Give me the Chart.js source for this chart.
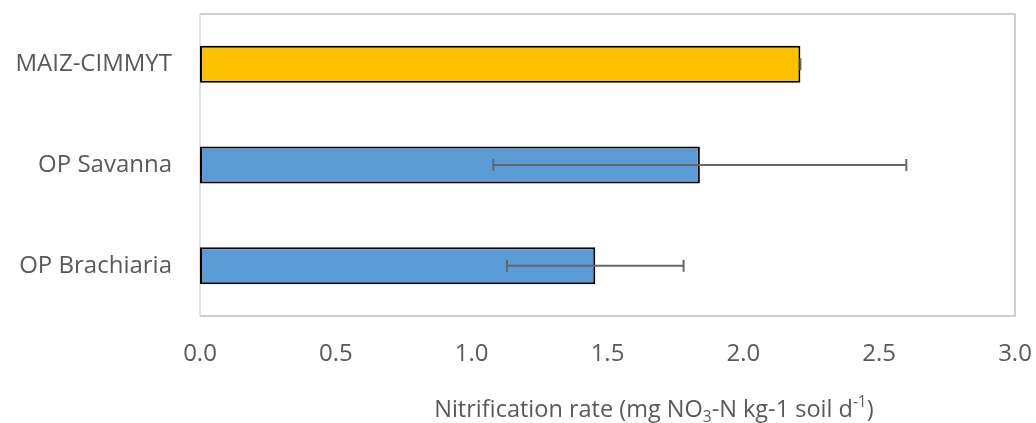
<!DOCTYPE html>
<html><head><meta charset="utf-8">
<script src="https://cdn.jsdelivr.net/npm/chart.js@4"></script>
<style>html,body{margin:0;padding:0;background:#fff}</style>
</head><body>
<canvas id="c" width="1036" height="423"></canvas>
<script>
// Nitrification rate per genotype, with standard-error half widths
const categories = ['MAIZ-CIMMYT', 'OP Savanna', 'OP Brachiaria'];
const rates = [2.21, 1.84, 1.455];
const errors = [0, 0.76, 0.325];
const barColors = ['#FFC000', '#5B9BD5', '#5B9BD5'];
const xTickValues = [0, 0.5, 1.0, 1.5, 2.0, 2.5, 3.0];

const FONT = '"Open Sans", "Liberation Sans", sans-serif';
const TEXT = '#595959';

// grey frame around the plotting area
const framePlugin = {
  id: 'frame',
  beforeDatasetsDraw(chart) {
    const a = chart.chartArea, ctx = chart.ctx;
    ctx.save();
    ctx.lineWidth = 1.5;
    ctx.strokeStyle = '#BFBFBF';
    ctx.beginPath();
    ctx.moveTo(a.left, a.top); ctx.lineTo(a.right, a.top);
    ctx.lineTo(a.right, a.bottom); ctx.lineTo(a.left, a.bottom);
    ctx.stroke();
    ctx.strokeStyle = '#D9D9D9';
    ctx.beginPath();
    ctx.moveTo(a.left, a.top); ctx.lineTo(a.left, a.bottom);
    ctx.stroke();
    ctx.restore();
  }
};

// horizontal error bars with end caps
const errorBarPlugin = {
  id: 'errorBars',
  afterDatasetsDraw(chart) {
    const ctx = chart.ctx, xs = chart.scales.x, ys = chart.scales.y;
    ctx.save();
    ctx.strokeStyle = '#666666';
    ctx.lineWidth = 2;
    rates.forEach((v, i) => {
      const y = ys.getPixelForValue(i);
      const x1 = xs.getPixelForValue(v - errors[i]);
      const x2 = xs.getPixelForValue(v + errors[i]);
      const h = 6;
      ctx.beginPath();
      ctx.moveTo(x1, y); ctx.lineTo(x2, y);
      ctx.moveTo(x1, y - h); ctx.lineTo(x1, y + h);
      ctx.moveTo(x2, y - h); ctx.lineTo(x2, y + h);
      ctx.stroke();
    });
    ctx.restore();
  }
};

// axis title with sub- and superscripts
const axisTitlePlugin = {
  id: 'axisTitle',
  afterDraw(chart) {
    const ctx = chart.ctx, a = chart.chartArea;
    const parts = [
      ['Nitrification rate (mg NO', 0],
      ['3', 1],
      ['-N kg-1 soil d', 0],
      ['-1', -1],
      [')', 0]
    ];
    const big = '23.5px ' + FONT, small = '15.5px ' + FONT;
    ctx.save();
    let total = 0;
    parts.forEach(p => { ctx.font = p[1] ? small : big; total += ctx.measureText(p[0]).width; });
    let x = a.left + (a.right - a.left) * 0.557 - total / 2;
    const base = a.bottom + 101;
    ctx.fillStyle = TEXT;
    ctx.textBaseline = 'alphabetic';
    ctx.textAlign = 'left';
    parts.forEach(p => {
      ctx.font = p[1] ? small : big;
      const dy = p[1] === 1 ? 5 : (p[1] === -1 ? -10 : 0);
      ctx.fillText(p[0], x, base + dy);
      x += ctx.measureText(p[0]).width;
    });
    ctx.restore();
  }
};

new Chart(document.getElementById('c'), {
  type: 'bar',
  data: {
    labels: categories,
    datasets: [{
      data: rates,
      backgroundColor: barColors,
      borderColor: '#000000',
      borderWidth: 2,
      borderSkipped: false,
      barPercentage: 0.367,
      categoryPercentage: 1.0
    }]
  },
  options: {
    indexAxis: 'y',
    responsive: false,
    devicePixelRatio: 1,
    animation: false,
    layout: { padding: { left: 0, right: 21, top: 14, bottom: 0 } },
    plugins: { legend: { display: false }, tooltip: { enabled: false } },
    scales: {
      x: {
        min: 0, max: 3,
        afterBuildTicks(scale) { scale.ticks = xTickValues.map(v => ({ value: v })); },
        afterFit(scale) {
          scale.height = 107;
          scale.paddingLeft = 0; scale.paddingRight = 0;
        },
        grid: { display: false, drawTicks: false },
        border: { display: false },
        ticks: {
          padding: 24,
          color: TEXT,
          font: { family: FONT, size: 24 },
          maxRotation: 0,
          autoSkip: false,
          callback: v => Number(v).toFixed(1)
        }
      },
      y: {
        afterFit(scale) {
          scale.width = 200;
          scale.paddingTop = 0; scale.paddingBottom = 0;
        },
        grid: { display: false, drawTicks: false },
        border: { display: false },
        ticks: {
          padding: 28,
          color: TEXT,
          font: { family: FONT, size: 24 }
        }
      }
    }
  },
  plugins: [framePlugin, errorBarPlugin, axisTitlePlugin]
});
</script>
</body></html>
